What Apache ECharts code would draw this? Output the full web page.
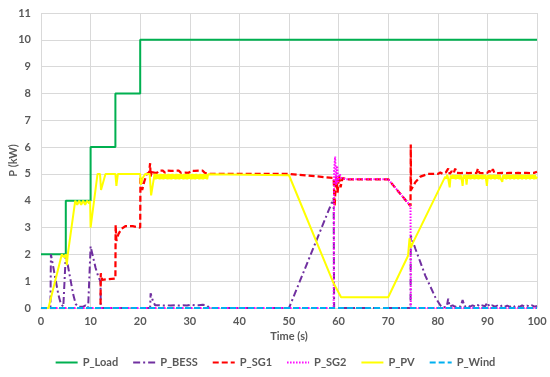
<!DOCTYPE html>
<html><head><meta charset="utf-8">
<script src="https://cdn.jsdelivr.net/npm/echarts@6/dist/echarts.min.js"></script>
<style>html,body{margin:0;padding:0;background:#fff}#c{width:550px;height:377px}</style>
</head><body><div id="c"></div>
<script>
const xTicks = [0,10,20,30,40,50,60,70,80,90,100];
const yTicks = [0,1,2,3,4,5,6,7,8,9,10,11];
const seriesNames = ['P_Load','P_BESS','P_SG1','P_SG2','P_PV','P_Wind'];

const loadData = [[0,2],[5,2],[5,4],[10,4],[10,6],[15,6],[15,8],[20,8],[20,10],[100,10]];

const bessData = [[0,0],[1.9,0],[2,2],[2.5,1.5],[3,1.0],[3.5,0.5],[4,0.15],[4.5,0.05],[4.9,0],[5,2],[5.5,1.5],[6,1.0],[6.5,0.5],[7,0.15],[7.5,0.05],[8.5,0.05],[9,0.1],[9.5,0],[10,2.3],[10.5,1.9],[11,1.5],[11.5,1.2],[12,0.98],[12.05,0],[20,0],[20.1,0.06],[20.3,0],[22,0],[22.1,0.55],[22.5,0.3],[23,0.1],[23.4,0.05],[23.8,0.1],[24.2,0.04],[24.6,0.09],[25,0.04],[25.4,0.1],[25.8,0.05],[26.2,0.09],[26.6,0.04],[27,0.1],[27.4,0.05],[27.8,0.09],[28.2,0.04],[28.6,0.1],[29,0.05],[29.4,0.09],[29.8,0.05],[30.2,0.12],[30.6,0.05],[31,0.1],[31.4,0.04],[31.8,0.1],[32.2,0.05],[32.6,0.12],[33,0.05],[33.4,0.1],[34,0],[50,0],[59,4.1],[59.1,0],[74.5,0],[74.55,2.7],[75.5,2.2],[76.5,1.7],[77.5,1.2],[78.5,0.8],[79.5,0.4],[80.5,0.1],[81,0.02],[81.8,0.05],[82.1,0.35],[82.4,0.05],[83,0.1],[83.5,0.04],[84,0.08],[84.6,0.05],[85,0.3],[85.4,0.05],[86,0.1],[86.5,0.05],[87,0.1],[87.5,0.06],[88,0.12],[88.5,0.05],[89,0.1],[89.5,0.06],[90,0.2],[90.4,0.05],[91,0.1],[91.5,0.05],[92,0.09],[92.5,0.04],[93,0.1],[93.5,0.05],[94,0.09],[94.5,0.04],[95,0.1],[95.5,0.05],[96,0.09],[96.5,0.04],[97,0.1],[97.5,0.05],[98,0.09],[98.5,0.05],[99,0.1],[99.5,0.05],[100,0.08]];

const sg1Data = [[0,0],[12,0],[12.05,1.3],[12.3,1.05],[12.6,1.1],[15,1.1],[15.05,3.1],[15.2,2.5],[15.6,2.75],[16.2,2.95],[17,3.05],[18.5,3.05],[20,3.0],[20.05,4.9],[20.4,4.4],[20.8,4.7],[21.3,5.0],[21.8,5.05],[22.0,5.4],[22.1,4.9],[22.4,5.15],[22.7,5.05],[23,5.12],[23.4,5.04],[23.8,5.12],[24.2,5.05],[24.6,5.12],[25,5.04],[25.4,5.12],[25.8,5.05],[26.2,5.11],[26.6,5.04],[27,5.12],[27.4,5.05],[27.8,5.12],[28.2,5.04],[28.6,5.11],[29,5.05],[29.4,5.12],[29.8,5.04],[30.2,5.12],[30.6,5.05],[31,5.11],[31.4,5.04],[31.8,5.12],[32.2,5.05],[32.6,5.12],[33,5.04],[33.4,5.1],[34,5.0],[50,5.0],[59,4.85],[59.2,3.8],[59.5,4.9],[59.8,4.3],[60.1,4.95],[60.4,4.5],[60.8,4.85],[61.5,4.8],[70,4.8],[74.5,3.8],[74.55,6.1],[74.6,4.4],[75.5,4.7],[76.5,4.9],[78,5.0],[80,5.0],[80.5,5.05],[81,5.0],[81.6,5.05],[82.1,5.2],[82.4,5.0],[82.8,5.1],[83.2,5.02],[83.5,5.2],[83.8,5.04],[84.2,5.1],[84.6,5.03],[85,5.1],[85.4,5.04],[85.8,5.1],[86.2,5.03],[86.6,5.1],[87,5.04],[87.4,5.1],[87.8,5.03],[88.1,5.2],[88.4,5.04],[88.8,5.1],[89.2,5.03],[89.6,5.1],[90,5.04],[90.4,5.12],[90.8,5.03],[91.1,5.18],[91.4,5.04],[91.8,5.1],[92.2,5.03],[92.6,5.1],[93,5.04],[93.4,5.1],[93.8,5.03],[94.2,5.1],[94.6,5.04],[95,5.1],[95.4,5.03],[95.8,5.1],[96.2,5.04],[96.6,5.1],[97,5.03],[97.4,5.1],[97.8,5.04],[98.2,5.1],[98.6,5.03],[99,5.1],[99.4,5.04],[100,5.08]];

const sg2Data = [[0,0],[59,0],[59.1,5.1],[59.3,5.65],[59.5,4.6],[59.7,5.3],[59.9,4.7],[60.2,5.0],[60.6,4.85],[61.5,4.8],[70,4.8],[74.5,3.8],[74.55,0],[100,0]];

const pvData = [[0,0],[1.5,0],[4.2,2],[4.6,1.9],[5.0,2.0],[5.2,1.6],[5.4,2.0],[6.9,4.0],[7.3,3.85],[7.7,4.0],[8.1,3.85],[8.5,4.0],[8.9,3.85],[9.3,4.0],[9.7,3.9],[9.9,4.0],[10.0,3.0],[11.4,5.0],[11.9,5.0],[12.1,4.4],[13.0,5.0],[15.0,5.0],[15.2,4.55],[15.5,5.0],[20.0,5.0],[20.1,4.6],[20.5,4.85],[21.0,5.0],[21.9,5.0],[22.2,4.2],[22.9,5.0],[23.1,4.8],[23.3,5.0],[23.5,4.82],[23.7,4.98],[23.9,4.8],[24.1,5.0],[24.3,4.81],[24.5,4.99],[24.7,4.8],[24.9,5.0],[25.1,4.82],[25.3,4.98],[25.5,4.8],[25.7,5.0],[25.9,4.81],[26.1,4.99],[26.3,4.8],[26.5,5.0],[26.7,4.82],[26.9,4.98],[27.1,4.8],[27.3,5.0],[27.5,4.81],[27.7,4.99],[27.9,4.8],[28.1,5.0],[28.3,4.82],[28.5,4.98],[28.7,4.8],[28.9,5.0],[29.1,4.81],[29.3,4.99],[29.5,4.8],[29.7,5.0],[29.9,4.82],[30.1,4.98],[30.3,4.8],[30.5,5.0],[30.7,4.81],[30.9,4.99],[31.1,4.8],[31.3,5.0],[31.5,4.82],[31.7,4.98],[31.9,4.8],[32.1,5.0],[32.3,4.81],[32.5,4.99],[32.7,4.8],[32.9,5.0],[33.1,4.82],[33.3,4.98],[33.5,4.8],[33.7,4.99],[34,4.95],[50,4.95],[59,0.92],[60.5,0.4],[70,0.4],[74.0,1.95],[74.3,2.6],[74.6,2.25],[74.9,2.4],[81.5,4.9],[81.7,4.82],[81.9,4.97],[82.1,4.82],[82.4,4.5],[82.6,4.95],[82.8,4.82],[83.0,4.97],[83.2,4.82],[83.4,4.96],[83.6,4.8],[83.8,4.96],[84.0,4.82],[84.2,4.97],[84.4,4.8],[84.6,4.96],[84.8,4.82],[85.0,4.55],[85.2,4.96],[85.4,4.82],[85.6,4.97],[85.8,4.6],[86.0,4.96],[86.2,4.82],[86.4,4.97],[86.6,4.8],[86.8,4.96],[87.0,4.82],[87.2,4.97],[87.4,4.8],[87.6,4.96],[87.8,4.82],[88.0,4.97],[88.2,4.8],[88.4,4.96],[88.6,4.82],[88.8,4.97],[89.0,4.8],[89.2,4.96],[89.4,4.82],[89.6,4.97],[89.9,4.55],[90.1,4.96],[90.3,4.82],[90.5,4.97],[90.7,4.8],[90.9,4.96],[91.1,4.82],[91.3,4.97],[91.5,4.8],[91.7,4.96],[91.9,4.82],[92.1,4.97],[92.3,4.8],[92.5,4.96],[92.7,4.82],[93.0,4.7],[93.2,4.96],[93.4,4.82],[93.6,4.97],[93.8,4.8],[94.0,4.96],[94.2,4.82],[94.4,4.97],[94.6,4.8],[94.8,4.96],[95.0,4.82],[95.2,4.97],[95.4,4.8],[95.6,4.96],[95.8,4.82],[96.0,4.97],[96.2,4.8],[96.4,4.96],[96.6,4.82],[96.8,4.97],[97.0,4.8],[97.2,4.96],[97.4,4.82],[97.6,4.97],[97.8,4.8],[98.0,4.96],[98.2,4.82],[98.4,4.97],[98.6,4.8],[98.8,4.96],[99.0,4.82],[99.2,4.97],[99.4,4.8],[99.6,4.96],[99.8,4.82],[100,4.9]];

const windData = [[0,0],[100,0]];

const txt = '#595959';
const font = 'Lato';
const chart = echarts.init(document.getElementById('c'), null, {renderer:'canvas'});
function mk(name, data, color, type, width) {
  return {name, type:'line', data, symbol:'none', animation:false,
    lineStyle:{color, width, type}, itemStyle:{color}};
}
chart.setOption({
  backgroundColor:'#fff',
  animation:false,
  grid:{left:41, right:13, top:13, bottom:69, containLabel:false, outerBoundsMode:'none'},
  xAxis:{type:'value', min:xTicks[0], max:xTicks[xTicks.length-1], interval:10,
    name:'Time (s)', nameLocation:'middle', nameGap:23, nameMoveOverlap:false,
    nameTextStyle:{color:txt, fontFamily:font, fontSize:11, fontWeight:'bold'},
    axisLine:{show:true, lineStyle:{color:'#D9D9D9'}}, axisTick:{show:false},
    axisLabel:{color:txt, fontFamily:font, fontSize:11, fontWeight:'bold', margin:8},
    splitLine:{show:true, lineStyle:{color:'#D9D9D9', width:1}}},
  yAxis:{type:'value', min:yTicks[0], max:yTicks[yTicks.length-1], interval:1,
    name:'P (kW)', nameLocation:'middle', nameGap:22, nameMoveOverlap:false,
    nameTextStyle:{color:txt, fontFamily:font, fontSize:11, fontWeight:'bold'},
    axisLine:{show:false}, axisTick:{show:false},
    axisLabel:{color:txt, fontFamily:font, fontSize:11, fontWeight:'bold', margin:10},
    splitLine:{show:true, lineStyle:{color:'#D9D9D9', width:1}}},
  legend:{bottom:4, left:'center', itemWidth:22, itemHeight:10, itemGap:14,
    itemStyle:{opacity:0},
    textStyle:{color:txt, fontFamily:font, fontSize:11, fontWeight:'bold'},
    data:seriesNames},
  series:[
    mk(seriesNames[0], loadData, '#00B050', 'solid', 2),
    mk(seriesNames[1], bessData, '#7030A0', [7,3,2,3], 2),
    mk(seriesNames[2], sg1Data, '#FF0000', [6,3], 2.25),
    mk(seriesNames[3], sg2Data, '#FF00FF', [1.5,1.5], 2),
    mk(seriesNames[4], pvData, '#FFFF00', 'solid', 2),
    mk(seriesNames[5], windData, '#00B0F0', [6,3], 2)
  ]
});
</script></body></html>
